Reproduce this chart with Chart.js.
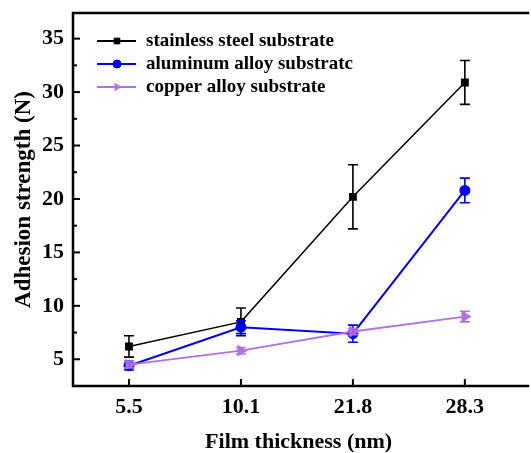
<!DOCTYPE html>
<html lang="en">
<head>
    <meta charset="UTF-8">
    <title>Adhesion strength vs film thickness</title>
    <style>
        html, body {
            margin: 0;
            padding: 0;
            background: #fff;
            overflow: hidden;
        }
        .chart-box {
            width: 531px;
            height: 453px;
        }
    </style>
    <script src="https://cdn.jsdelivr.net/npm/chart.js"></script>
</head>
<body>
    <div class="chart-box"><canvas id="chart"></canvas></div>

    <script>
        // film thickness categories (nm)
        const thickness = ['5.5', '10.1', '21.8', '28.3'];

        // adhesion strength (N) and error bar half-widths
        const steelValues = [6.2, 8.5, 20.2, 30.9];
        const steelErrors = [1.0, 1.3, 3.0, 2.05];
        const aluminumValues = [4.4, 8.0, 7.4, 20.8];
        const aluminumErrors = [0.4, 0.6, 0.8, 1.15];
        const copperValues = [4.5, 5.8, 7.6, 9.0];
        const copperErrors = [0.3, 0.3, 0.3, 0.5];

        const yTicks = [5, 10, 15, 20, 25, 30, 35];

        const fontFamily = "'Liberation Serif', 'Times New Roman', serif";
        const purple = '#b76ee6';

        function toPoints(values) {
            return values.map((v, i) => ({ x: i, y: v }));
        }

        // error bars drawn through the chart scales
        const errorBars = {
            id: 'errorBars',
            afterDatasetsDraw(chart) {
                const ctx = chart.ctx;
                const xs = chart.scales.x, ys = chart.scales.y;
                chart.data.datasets.forEach((ds) => {
                    ctx.save();
                    ctx.strokeStyle = ds.borderColor;
                    ctx.lineWidth = 1.6;
                    ds.data.forEach((p, i) => {
                        const e = ds.errors[i];
                        const x = xs.getPixelForValue(p.x);
                        const top = ys.getPixelForValue(p.y + e);
                        const bot = ys.getPixelForValue(p.y - e);
                        ctx.beginPath();
                        ctx.moveTo(x, top); ctx.lineTo(x, bot);
                        ctx.moveTo(x - 5, top); ctx.lineTo(x + 5, top);
                        ctx.moveTo(x - 5, bot); ctx.lineTo(x + 5, bot);
                        ctx.stroke();
                    });
                    ctx.restore();
                });
            }
        };

        // frame with inward ticks
        const frame = {
            id: 'frame',
            afterDraw(chart) {
                const ctx = chart.ctx;
                const a = chart.chartArea;
                const xs = chart.scales.x, ys = chart.scales.y;
                ctx.save();
                ctx.strokeStyle = '#000';
                ctx.lineWidth = 2.5;
                ctx.beginPath();
                ctx.moveTo(a.right + 5, a.top);
                ctx.lineTo(a.left, a.top);
                ctx.lineTo(a.left, a.bottom);
                ctx.lineTo(a.right + 5, a.bottom);
                ctx.stroke();

                ctx.lineWidth = 2;
                ys.ticks.forEach((t) => {
                    const y = ys.getPixelForValue(t.value);
                    const major = yTicks.includes(t.value);
                    ctx.beginPath();
                    ctx.moveTo(a.left, y);
                    ctx.lineTo(a.left + (major ? 7 : 4), y);
                    ctx.stroke();
                });
                xs.ticks.forEach((t) => {
                    const x = xs.getPixelForValue(t.value);
                    ctx.beginPath();
                    ctx.moveTo(x, a.bottom);
                    ctx.lineTo(x, a.bottom - 7);
                    ctx.stroke();
                });
                ctx.restore();
            }
        };

        // legend with line + marker
        const lineLegend = {
            id: 'lineLegend',
            afterDraw(chart) {
                const ctx = chart.ctx;
                const a = chart.chartArea;
                ctx.save();
                chart.data.datasets.forEach((ds, i) => {
                    const y = a.top + 28 + i * 23;
                    const x0 = a.left + 24;
                    ctx.strokeStyle = ds.borderColor;
                    ctx.fillStyle = ds.pointBackgroundColor;
                    ctx.lineWidth = 2;
                    ctx.beginPath();
                    ctx.moveTo(x0, y);
                    ctx.lineTo(x0 + 39, y);
                    ctx.stroke();
                    ctx.lineWidth = 1;
                    Chart.helpers.drawPoint(ctx, {
                        pointStyle: ds.pointStyle,
                        radius: 4,
                        rotation: ds.pointRotation || 0,
                        borderWidth: 1
                    }, x0 + 20, y);
                    ctx.fillStyle = '#000';
                    ctx.font = 'bold 19px ' + fontFamily;
                    ctx.textBaseline = 'middle';
                    ctx.fillText(ds.label, x0 + 49, y);
                });
                ctx.restore();
            }
        };

        new Chart(document.getElementById('chart'), {
            type: 'line',
            data: {
                datasets: [{
                    label: 'stainless steel substrate',
                    data: toPoints(steelValues),
                    errors: steelErrors,
                    borderColor: '#000000',
                    pointBackgroundColor: '#000000',
                    pointStyle: 'rect',
                    pointRadius: 4.5,
                    borderWidth: 1.5,
                    order: 2
                }, {
                    label: 'aluminum alloy substratc',
                    data: toPoints(aluminumValues),
                    errors: aluminumErrors,
                    borderColor: '#0000ff',
                    pointBackgroundColor: '#0000ff',
                    pointStyle: 'circle',
                    pointRadius: 4.5,
                    borderWidth: 2,
                    order: 1
                }, {
                    label: 'copper alloy substrate',
                    data: toPoints(copperValues),
                    errors: copperErrors,
                    borderColor: purple,
                    pointBackgroundColor: purple,
                    pointStyle: 'triangle',
                    pointRotation: 90,
                    pointRadius: 5,
                    borderWidth: 1.8,
                    order: 0
                }]
            },
            options: {
                responsive: true,
                maintainAspectRatio: false,
                animation: false,
                layout: { padding: { top: 13, right: -2, left: 10, bottom: 0 } },
                plugins: {
                    legend: { display: false },
                    tooltip: { enabled: false }
                },
                scales: {
                    x: {
                        type: 'linear',
                        min: -0.5,
                        max: 3.53,
                        grid: { display: false, drawTicks: false },
                        border: { display: false },
                        afterFit(scale) {
                            scale.height = 67;
                            scale.paddingLeft = 0;
                            scale.paddingRight = 0;
                        },
                        ticks: {
                            stepSize: 1,
                            includeBounds: false,
                            autoSkip: false,
                            maxRotation: 0,
                            padding: 8,
                            color: '#000',
                            font: { family: fontFamily, size: 22, weight: 'bold' },
                            callback: (v) => thickness[v] !== undefined ? thickness[v] : ''
                        },
                        title: {
                            display: true,
                            text: 'Film thickness (nm)',
                            color: '#000',
                            padding: { top: 6, bottom: -3 },
                            font: { family: fontFamily, size: 22, weight: 'bold' }
                        }
                    },
                    y: {
                        min: 2.5,
                        max: 37.4,
                        grid: { display: false, drawTicks: false },
                        border: { display: false },
                        afterFit(scale) {
                            scale.width = 63;
                            scale.paddingTop = 0;
                            scale.paddingBottom = 0;
                        },
                        ticks: {
                            stepSize: 2.5,
                            includeBounds: false,
                            autoSkip: false,
                            padding: 9,
                            color: '#000',
                            font: { family: fontFamily, size: 22, weight: 'bold' },
                            callback: (v) => yTicks.includes(v) ? String(v) : ''
                        },
                        title: {
                            display: true,
                            text: 'Adhesion strength (N)',
                            color: '#000',
                            padding: { top: 0, bottom: 4 },
                            font: { family: fontFamily, size: 23, weight: 'bold' }
                        }
                    }
                }
            },
            plugins: [errorBars, frame, lineLegend]
        });
    </script>
</body>
</html>
